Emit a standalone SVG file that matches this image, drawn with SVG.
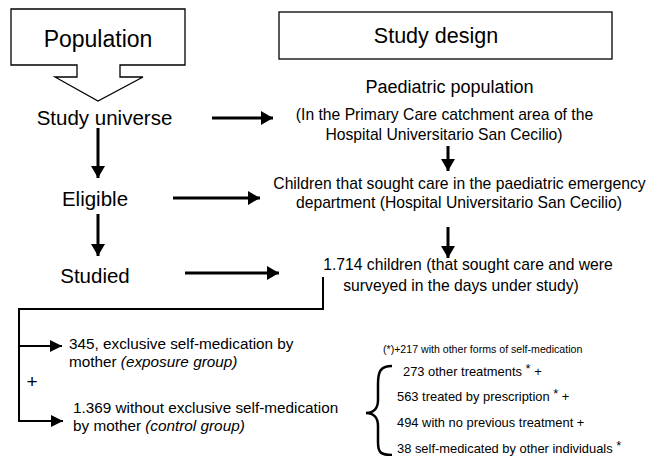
<svg xmlns="http://www.w3.org/2000/svg" width="646" height="456" viewBox="0 0 646 456">
<style>
text{font-family:"Liberation Sans",Arial,Helvetica,sans-serif;fill:#000}
.big{font-size:21.5px}
.mid{font-size:20.5px}
.txt{font-size:15.7px}
.sm{font-size:15.3px}
.xs{font-size:12.9px}
.tiny{font-size:10.6px}
.ctr{text-anchor:middle}
.shape{fill:#fff;stroke:#000;stroke-width:1.3}
.arr{fill:none;stroke:#000;stroke-width:3}
.thin{fill:none;stroke:#000;stroke-width:2}
</style>
<defs>
<marker id="ah" markerUnits="userSpaceOnUse" markerWidth="14" markerHeight="14" viewBox="0 0 14 14" refX="12" refY="7" orient="auto">
<path d="M0,0 L12,7 L0,14 Z" fill="#000"/>
</marker>
<marker id="ahs" markerUnits="userSpaceOnUse" markerWidth="13" markerHeight="13" viewBox="0 0 13 13" refX="12" refY="6.5" orient="auto">
<path d="M0,0.5 L12,6.5 L0,12.5 Z" fill="#000"/>
</marker>
</defs>
<g id="population">
<path class="shape" d="M11,9 H185 V65 H120 V77 H143 L98,101 L55,77 H77 V65 H11 Z"/>
<text class="ctr" x="98" y="47" style="font-size:23px">Population</text>
</g>
<g id="study-design">
<rect class="shape" x="279" y="12" width="333" height="47"/>
<text class="big ctr" x="436" y="43">Study design</text>
</g>
<g id="study-universe"><text class="mid ctr" x="104.5" y="125">Study universe</text></g>
<g id="eligible"><text class="mid ctr" x="95" y="206">Eligible</text></g>
<g id="studied"><text class="mid ctr" x="95" y="283">Studied</text></g>
<g id="paediatric">
<text class="ctr" x="449.5" y="93" style="font-size:18px">Paediatric population</text>
<text class="txt ctr" x="444.5" y="120">(In the Primary Care catchment area of the</text>
<text class="txt ctr" x="444" y="140">Hospital Universitario San Cecilio)</text>
</g>
<g id="children-emergency">
<text class="txt ctr" x="459.5" y="189">Children that sought care in the paediatric emergency</text>
<text class="txt ctr" x="459" y="208">department (Hospital Universitario San Cecilio)</text>
</g>
<g id="children-1714">
<text class="txt ctr" x="468" y="270">1.714 children (that sought care and were</text>
<text class="txt ctr" x="461" y="291">surveyed in the days under study)</text>
</g>
<g id="exposure">
<text class="sm" x="69" y="349">345, exclusive self-medication by</text>
<text class="sm" x="69" y="367">mother <tspan font-style="italic">(exposure group)</tspan></text>
</g>
<g id="control">
<text class="sm" x="73" y="413">1.369 without exclusive self-medication</text>
<text class="sm" x="73" y="431">by mother <tspan font-style="italic">(control group)</tspan></text>
</g>
<g id="plus"><text class="ctr" x="32" y="388" style="font-size:19px">+</text></g>
<g id="breakdown">
<text class="tiny" x="383" y="353">(*)+217 with other forms of self-medication</text>
<path class="thin" style="stroke-width:2.5" d="M392,366 C380,366 378,372 378,384 L378,400 C378,409 373,413 366,413 C373,413 378,417 378,426 L378,442 C378,452 380,455 392,455"/>
<text class="xs" x="403" y="376">273 other treatments <tspan dy="-3">*</tspan><tspan dy="3"> +</tspan></text>
<text class="xs" x="397" y="401">563 treated by prescription <tspan dy="-3">*</tspan><tspan dy="3"> +</tspan></text>
<text class="xs" x="397" y="427">494 with no previous treatment +</text>
<text class="xs" x="397" y="453">38 self-medicated by other individuals <tspan dy="-3">*</tspan></text>
</g>
<g id="connectors">
<line class="arr" x1="212" y1="118" x2="273" y2="118" marker-end="url(#ah)"/>
<line class="arr" x1="173" y1="198" x2="260" y2="198" marker-end="url(#ah)"/>
<line class="arr" x1="185" y1="273" x2="279" y2="273" marker-end="url(#ah)"/>
<line class="arr" x1="98" y1="128" x2="98" y2="178" marker-end="url(#ah)"/>
<line class="arr" x1="98" y1="214" x2="98" y2="256" marker-end="url(#ah)"/>
<line class="arr" x1="448" y1="146" x2="448" y2="171" marker-end="url(#ah)"/>
<line class="arr" x1="448" y1="227" x2="448" y2="258" marker-end="url(#ah)"/>
<path class="thin" d="M323,277 V309 H19 V421 H63" marker-end="url(#ahs)"/>
<line class="thin" x1="19" y1="346" x2="62" y2="346" marker-end="url(#ahs)"/>
</g>
</svg>
